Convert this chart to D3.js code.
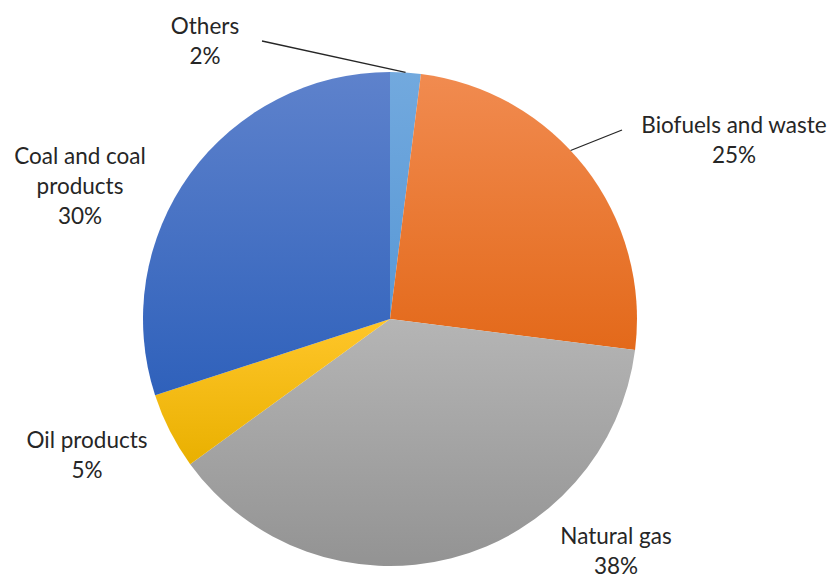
<!DOCTYPE html>
<meta charset="utf-8">
<style>
body { margin: 0; background: #fff; }
.lbl { font-family: Lato, "Open Sans", sans-serif; font-size: 22.5px; fill: #262626; }
</style>
<body>
<script src="https://d3js.org/d3.v7.min.js"></script>
<script>
// data
var categories = ["Others", "Biofuels and waste", "Natural gas", "Oil products", "Coal and coal products"];
var shares = [2, 25, 38, 5, 30];
var labelLines = [["Others", "2%"], ["Biofuels and waste", "25%"], ["Natural gas", "38%"], ["Oil products", "5%"], ["Coal and coal", "products", "30%"]];

// colours, top -> bottom of each slice
var colTop = ["#72a9de", "#f18b50", "#b5b5b5", "#ffc62a", "#5e82cc"];
var colBot = ["#5898d6", "#e3691a", "#939393", "#e9b000", "#2f61bb"];

// label layout (centre x, first baseline)
var labelPos = [[205, 34], [734, 133], [616, 544], [87, 448], [80, 164]];
var leaders = { 0: [[262, 41], null], 1: [[622, 130], null] };
var leaderAngle = { 0: 0.063, 1: 0.82 };

var W = 832, H = 574, cx = 390, cy = 319, R = 247;

var svg = d3.select("body").append("svg")
    .attr("width", W)
    .attr("height", H);

var defs = svg.append("defs");
categories.forEach(function(c, i) {
  var g = defs.append("linearGradient")
      .attr("id", "g" + i)
      .attr("x1", 0).attr("y1", 0).attr("x2", 0).attr("y2", 1);
  g.append("stop").attr("offset", "0%").attr("stop-color", colTop[i]);
  g.append("stop").attr("offset", "100%").attr("stop-color", colBot[i]);
});

var pie = d3.pie().sort(null).value(function(d) { return d; });
var arc = d3.arc().innerRadius(0).outerRadius(R);
var arcs = pie(shares);

var g = svg.append("g").attr("transform", "translate(" + cx + "," + cy + ")");
g.selectAll("path")
    .data(arcs)
  .enter().append("path")
    .attr("d", arc)
    .attr("fill", function(d, i) { return "url(#g" + i + ")"; })
    .attr("stroke", "none");

// leader lines
Object.keys(leaders).forEach(function(k) {
  var a = leaderAngle[k];
  var p = [cx + R * Math.sin(a), cy - R * Math.cos(a)];
  svg.append("line")
      .attr("x1", leaders[k][0][0]).attr("y1", leaders[k][0][1])
      .attr("x2", p[0]).attr("y2", p[1])
      .attr("stroke", "#262626")
      .attr("stroke-width", 1.3);
});

// labels
labelLines.forEach(function(lines, i) {
  var t = svg.append("text")
      .attr("class", "lbl")
      .attr("text-anchor", "middle");
  lines.forEach(function(s, j) {
    t.append("tspan")
        .attr("x", labelPos[i][0])
        .attr("y", labelPos[i][1] + j * 30)
        .text(s);
  });
});
</script>
</body>
